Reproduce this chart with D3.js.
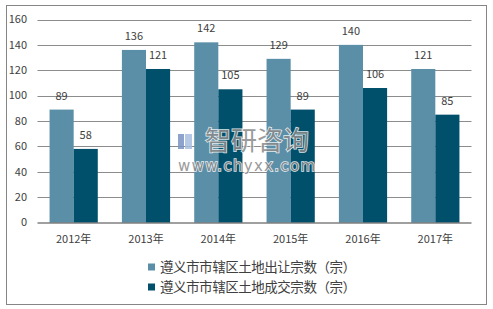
<!DOCTYPE html>
<html>
<head>
<meta charset="utf-8">
<script src="https://cdn.jsdelivr.net/npm/d3@7"></script>
<style>
  body { margin: 0; background: #fff; }
  text { font-family: "Noto Sans CJK SC", "Liberation Sans", sans-serif; fill: #404040; }
</style>
</head>
<body>
<script>
// chart data
const years = ["2012年", "2013年", "2014年", "2015年", "2016年", "2017年"];
const seriesNames = ["遵义市市辖区土地出让宗数（宗）", "遵义市市辖区土地成交宗数（宗）"];
const transferCounts = [89, 136, 142, 129, 140, 121];
const dealCounts = [58, 121, 105, 89, 106, 85];
const yTicks = [0, 20, 40, 60, 80, 100, 120, 140, 160];
const colors = ["#5b8fa8", "#00506b"];

const width = 493, height = 309;
const plot = { left: 37.5, right: 471.5, top: 19.5, bottom: 222.5 };

const svg = d3.select("body").append("svg")
  .attr("width", width)
  .attr("height", height);

// outer frame
svg.append("rect")
  .attr("x", 6.5).attr("y", 5.5)
  .attr("width", 480).attr("height", 299)
  .attr("fill", "#fff")
  .attr("stroke", "#868686")
  .attr("stroke-width", 1);

const x = d3.scaleBand()
  .domain(years)
  .range([plot.left, plot.right])
  .padding(0);

const inner = d3.scaleBand()
  .domain([0, 1])
  .range([x.bandwidth() / 6, x.bandwidth() * 5 / 6]);

const y = d3.scaleLinear()
  .domain([0, 160])
  .range([plot.bottom, plot.top]);

// gridlines
svg.append("g")
  .selectAll("line")
  .data(yTicks.filter(d => d > 0))
  .join("line")
  .attr("x1", plot.left).attr("x2", plot.right)
  .attr("y1", d => Math.round(y(d)) + 0.5)
  .attr("y2", d => Math.round(y(d)) + 0.5)
  .attr("stroke", "#8c8c8c")
  .attr("stroke-width", 1);

// y axis labels
svg.append("g")
  .selectAll("text")
  .data(yTicks)
  .join("text")
  .attr("x", 27)
  .attr("y", d => y(d))
  .attr("dy", "0.35em")
  .attr("text-anchor", "end")
  .attr("font-size", 11)
  .text(d => d);

// bars
const series = [transferCounts, dealCounts];
series.forEach((vals, si) => {
  svg.append("g")
    .selectAll("rect")
    .data(vals)
    .join("rect")
    .attr("x", (d, i) => x(years[i]) + inner(si))
    .attr("y", d => y(d))
    .attr("width", inner.bandwidth())
    .attr("height", d => plot.bottom - y(d))
    .attr("fill", colors[si]);

  svg.append("g")
    .selectAll("text")
    .data(vals)
    .join("text")
    .attr("x", (d, i) => x(years[i]) + inner(si) + inner.bandwidth() / 2)
    .attr("y", d => y(d) - 10)
    .attr("text-anchor", "middle")
    .attr("font-size", 11)
    .text(d => d);
});

// baseline
svg.append("line")
  .attr("x1", plot.left).attr("x2", plot.right)
  .attr("y1", plot.bottom + 0.5).attr("y2", plot.bottom + 0.5)
  .attr("stroke", "#404040");

// x labels
svg.append("g")
  .selectAll("text")
  .data(years)
  .join("text")
  .attr("x", d => x(d) + x.bandwidth() / 2)
  .attr("y", 239)
  .attr("dy", "0.35em")
  .attr("text-anchor", "middle")
  .attr("font-size", 11)
  .text(d => d);

// watermark
const wm = svg.append("g").attr("opacity", 0.85);
wm.append("rect").attr("x", 178).attr("y", 134).attr("width", 6).attr("height", 15).attr("fill", "#7b93c4");
wm.append("rect").attr("x", 185).attr("y", 134).attr("width", 7).attr("height", 15).attr("fill", "#a9c0e2");
wm.append("text")
  .attr("x", 205).attr("y", 150)
  .attr("font-size", 26)
  .style("fill", "#8a8a8a")
  .attr("stroke", "#fff").attr("stroke-width", 1.5).attr("paint-order", "stroke")
  .text("智研咨询");
wm.append("text")
  .attr("x", 178).attr("y", 171)
  .attr("font-size", 15)
  .attr("textLength", 137)
  .style("font-family", "'DejaVu Sans', sans-serif")
  .style("fill", "#8a8a8a")
  .attr("stroke", "#fff").attr("stroke-width", 1.5).attr("paint-order", "stroke")
  .text("www.chyxx.com");

// legend
const legend = svg.append("g")
  .selectAll("g")
  .data(seriesNames)
  .join("g")
  .attr("transform", (d, i) => `translate(148,${267 + i * 20})`);

legend.append("rect")
  .attr("x", 0).attr("y", -3.5)
  .attr("width", 7).attr("height", 7)
  .attr("fill", (d, i) => colors[i]);

legend.append("text")
  .attr("x", 12)
  .attr("dy", "0.35em")
  .attr("font-size", 13.5)
  .attr("textLength", 196)
  .text(d => d);
</script>
</body>
</html>
